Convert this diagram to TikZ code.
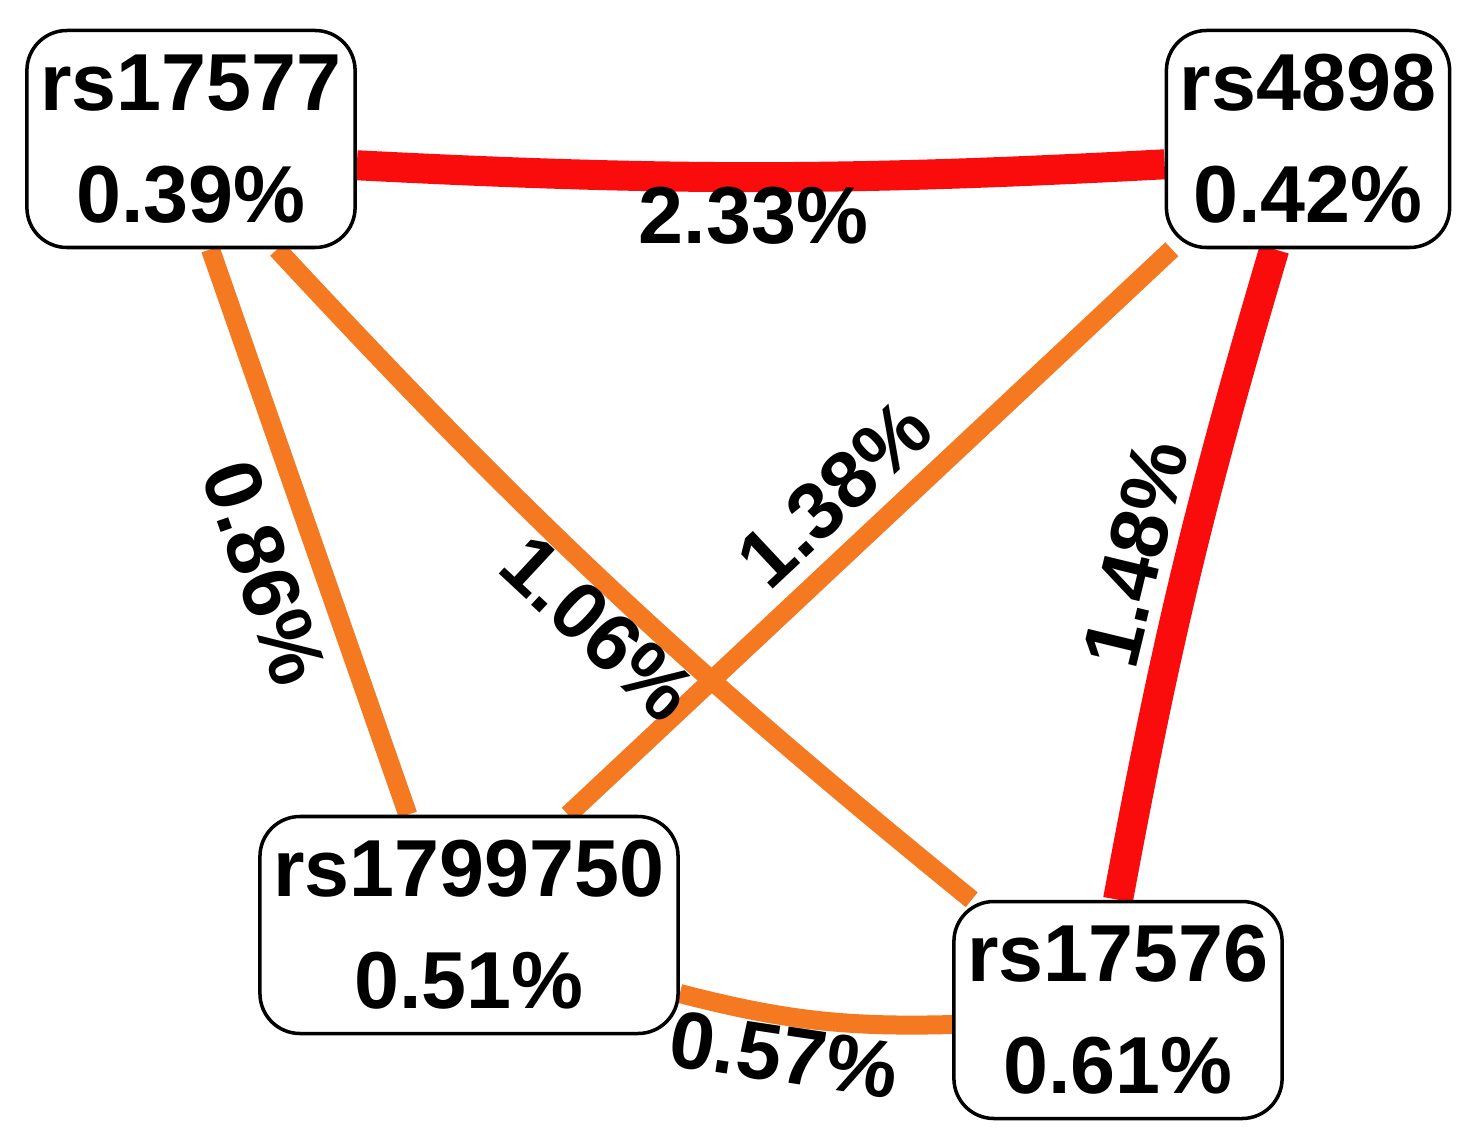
\documentclass[tikz,border=0pt]{standalone}
\usepackage{fontspec}
\setmainfont{Liberation Sans}
\usetikzlibrary{backgrounds}
\definecolor{edgered}{RGB}{250,12,12}
\definecolor{edgeorange}{RGB}{244,121,32}
\begin{document}
\begin{tikzpicture}
    \tikzstyle{snp}=[draw=black, line width=1pt, rounded corners=0.4cm, fill=white, align=center, inner xsep=0.135cm, minimum height=2.17cm, font=\fontsize{23}{31.9}\selectfont\bfseries]
    \tikzstyle{strong}=[draw=edgered, line width=0.3cm]
    \tikzstyle{weak}=[draw=edgeorange, line width=0.19cm]
    \tikzstyle{pct}=[font=\fontsize{23}{27}\selectfont\bfseries, sloped]
    \useasboundingbox (0,0) rectangle (14.73,-11.41);
    % SNP boxes
    \node[snp] (rs17577) at (1.91,-1.39) {rs17577\\0.39\%};
    \node[snp] (rs4898) at (13.08,-1.39) {rs4898\\0.42\%};
    \node[snp] (rs1799750) at (4.69,-9.25) {rs1799750\\0.51\%};
    \node[snp] (rs17576) at (11.18,-10.10) {rs17576\\0.61\%};
    % interactions
    \begin{scope}[on background layer]
    \draw[strong] (rs17577.-9) to[bend right=3] node[pct, below, pos=0.49, inner sep=0pt, yshift=0.05cm] {2.33\%} (rs4898.190);
    \draw[strong] (rs4898.-107) to[bend right=3] node[pct, above, pos=0.49, inner sep=3pt] {1.48\%} (rs17576.90);
    \draw[weak] (rs17577.-80) -- node[pct, below, pos=0.54, inner sep=5pt] {0.86\%} (rs1799750.119);
    \draw[weak] (rs4898.219) -- node[pct, above, pos=0.5, inner sep=4pt] {1.38\%} (rs1799750.48);
    \draw[weak] (rs17577.-52) to[bend right=4] node[pct, below, pos=0.52, inner sep=0pt] {1.06\%} (rs17576.143);
    \draw[weak] (rs1799750.-18) to[bend right=8] node[pct, below, pos=0.4, inner sep=0pt] {0.57\%} (rs17576.185);
    \end{scope}
\end{tikzpicture}
\end{document}
